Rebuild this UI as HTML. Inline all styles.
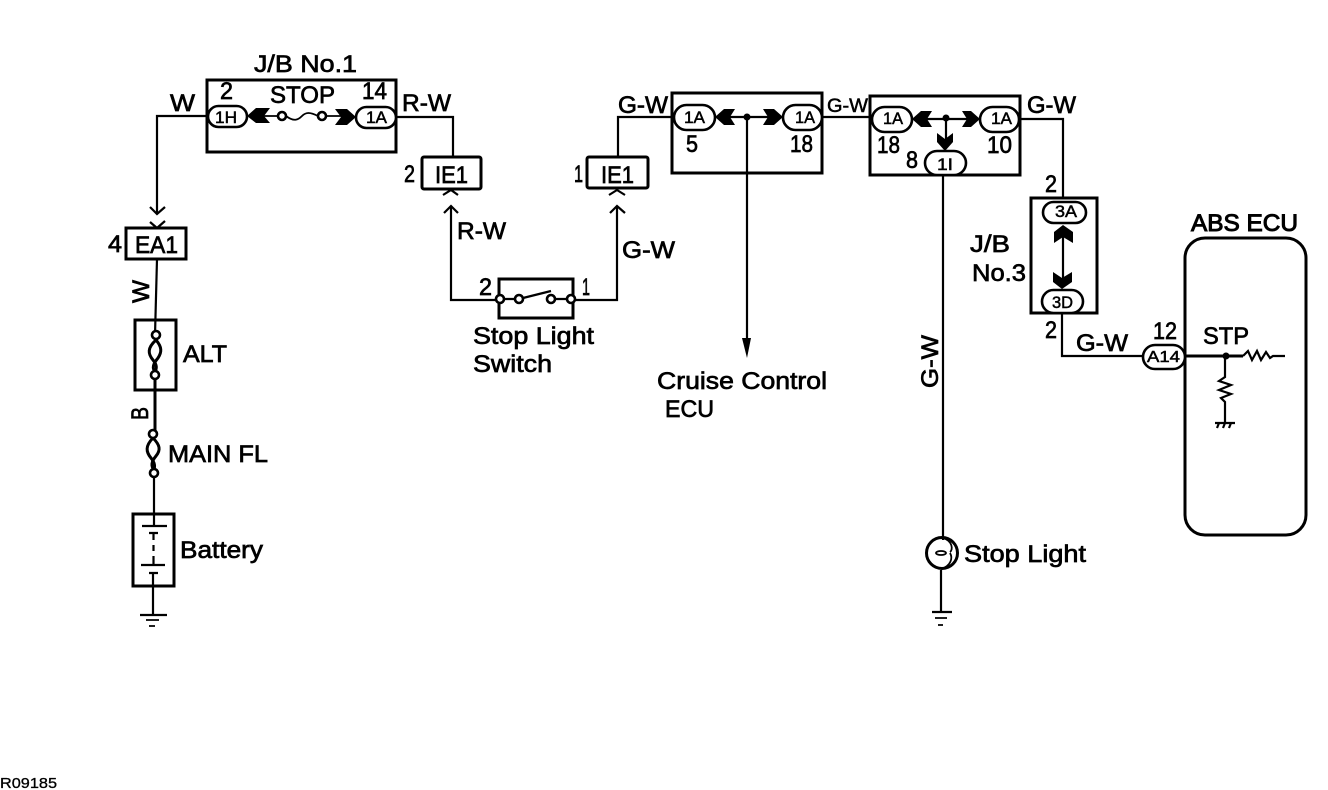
<!DOCTYPE html>
<html>
<head>
<meta charset="utf-8">
<style>
html,body{margin:0;padding:0;background:#fff;}
svg{display:block;}
text{font-family:"Liberation Sans",sans-serif;font-size:24px;fill:#000;stroke:#000;stroke-width:.7px;}
.s{font-size:17px;stroke-width:.5px;}
.m{font-size:19px;stroke-width:.5px;}
.l{fill:none;stroke:#000;stroke-width:2.2;}
.t{fill:none;stroke:#000;stroke-width:1.8;}
.b{fill:none;stroke:#000;stroke-width:3;}
.c{fill:#fff;stroke:#000;stroke-width:2.6;}
.f{fill:#000;stroke:none;}
</style>
</head>
<body>
<svg width="1328" height="790" viewBox="0 0 1328 790" xmlns="http://www.w3.org/2000/svg">
<rect width="1328" height="790" fill="#fff"/>

<!-- wires -->
<path class="l" d="M208,116H157V213"/>
<path class="l" d="M150,207L157,214L165,207"/>
<path class="l" d="M150,222L157,228L165,221"/>
<path class="l" d="M396,117H453V157"/>
<path class="l" d="M443,195L451,190L458,195"/>
<path class="l" d="M451,206V300H499"/>
<path class="l" d="M444,213L451,206L458,213"/>
<path class="l" d="M609,195L617,190L625,195"/>
<path class="l" d="M573,300H617V206"/>
<path class="l" d="M610,213L617,206L625,213"/>
<path class="l" d="M618,157V117H673"/>
<path class="l" d="M822,117H870"/>
<path class="l" d="M1020,119H1063V198"/>
<path class="l" d="M1062,313V356H1143"/>
<path class="l" d="M943,175V540"/>
<path class="l" d="M941,570V612"/>
<path class="l" d="M747,117V342"/>
<path class="f" d="M742,338L747,358L751,338Z"/>

<!-- J/B No.1 -->
<rect class="b" x="207" y="80" width="189" height="72"/>
<rect class="c" x="208" y="106" width="39" height="21" rx="10.5"/>
<rect class="c" x="356" y="107" width="40" height="21" rx="10.5"/>
<path class="f" d="M247,116L256,108H270L264,116L270,123H256Z"/>
<path class="f" d="M356,117L347,109H335L341,117L335,125H347Z"/>
<path class="t" d="M264,116H278M286,116C294,122 298,120 302,116C306,112 310,112 318,116M326,116H341"/>
<circle class="c" cx="282" cy="116" r="4"/>
<circle class="c" cx="322" cy="116" r="4"/>

<rect class="b" x="422" y="157" width="59" height="32" rx="2"/>
<rect class="b" x="587" y="157" width="61" height="31" rx="2"/>
<rect class="b" x="126" y="228" width="60" height="31"/>

<!-- left column -->
<path class="l" d="M157,259L155,335"/>
<rect class="b" x="135" y="320" width="41" height="70"/>
<path class="b" d="M155,375V434" />
<path class="b" d="M156,340C147,348 148,354 153,360C157,365 157,368 155,372"/>
<path class="b" d="M156,340C162,347 162,352 158,358C153,364 152,368 155,372"/>
<path class="b" d="M153,438C145,446 146,452 151,458C155,463 155,466 154,470"/>
<path class="b" d="M153,438C160,445 161,450 156,456C151,462 151,466 154,470"/>
<path class="l" d="M154,476V526"/>
<circle class="c" cx="156" cy="335" r="4"/>
<circle class="c" cx="155" cy="375" r="4"/>
<circle class="c" cx="153" cy="434" r="4"/>
<circle class="c" cx="154" cy="473" r="4"/>
<rect class="b" x="133" y="514" width="41" height="72"/>
<path class="l" d="M142,526H167M149,533H158M153.500,533V540M153.500,545V551M153.500,556V565M141,565H165M149,573H158"/>
<path class="l" d="M153,573V615M140,615H167"/>
<path class="t" d="M146,620H159M149,626H155"/>

<!-- switch -->
<path class="b" d="M499,299V279H573V318H499V299"/>
<path class="l" d="M504,299H515M555,299H567"/>
<path class="l" d="M523,298L551,291"/>
<circle class="c" cx="500" cy="299" r="4"/>
<circle class="c" cx="519" cy="299" r="4"/>
<circle class="c" cx="551" cy="299" r="4"/>
<circle class="c" cx="571" cy="299" r="4"/>

<!-- box 2 -->
<rect class="b" x="672" y="93" width="150" height="80"/>
<rect class="c" x="674" y="105" width="41" height="25" rx="12.500"/>
<rect class="c" x="783" y="105" width="39" height="25" rx="12.500"/>
<path class="f" d="M715,117L724,109H735L730,117L735,125H724Z"/>
<path class="f" d="M783,117L774,109H763L768,117L763,125H774Z"/>
<path class="l" d="M730,117H768"/>
<circle class="f" cx="747" cy="117" r="3.500"/>

<!-- box 3 -->
<rect class="b" x="870" y="96" width="150" height="79"/>
<rect class="c" x="872" y="107" width="40" height="25" rx="12.500"/>
<rect class="c" x="980" y="107" width="39" height="25" rx="12.500"/>
<path class="f" d="M912,119L921,111H932L927,119L932,127H921Z"/>
<path class="f" d="M980,119L971,111H962L967,119L962,127H971Z"/>
<path class="l" d="M927,119H967M946,119V140"/>
<circle class="f" cx="946" cy="118" r="3.500"/>
<path class="f" d="M945,151L953,142V133L945,139L937,133V142Z"/>
<rect class="c" x="925" y="151" width="41" height="24" rx="12"/>

<!-- J/B No.3 -->
<rect class="b" x="1031" y="198" width="66" height="115"/>
<rect class="c" x="1043" y="202" width="43" height="21" rx="10.500"/>
<rect class="c" x="1042" y="290" width="41" height="23" rx="11.500"/>
<path class="f" d="M1063,225L1073,232V243L1063,237L1054,243V232Z"/>
<path class="f" d="M1062,289L1053,282V272L1062,278L1072,272V282Z"/>
<path class="l" d="M1063,237V278"/>

<!-- ABS ECU -->
<rect class="b" x="1185" y="238" width="121" height="297" rx="20"/>
<rect class="c" x="1143" y="345" width="42" height="24" rx="12"/>
<path class="b" d="M1185,356H1243"/>
<circle class="f" cx="1226" cy="356" r="3.500"/>
<path class="l" d="M1243,356L1248,351L1252,360L1257,351L1261,360L1266,352L1270,358L1273,356H1285"/>
<path class="l" d="M1225,356V377L1219,381L1231,385L1219,390L1231,394L1221,398L1225,402V423"/>
<path class="l" d="M1215,423H1235M1219,423L1217,428M1225,423L1223,428M1231,423L1229,428"/>

<!-- stop light -->
<circle class="b" cx="942" cy="553" r="15.500"/>
<path class="t" d="M943,538C953,541 953,550 950,552M941,569C951,566 953,558 950,553"/>
<ellipse class="t" cx="941" cy="553" rx="5" ry="2"/>
<path class="l" d="M932,612H952"/>
<path class="t" d="M935,618H947M938,625H943"/>

<!-- labels -->
<text lengthAdjust="spacingAndGlyphs" x="254" y="72" textLength="103">J/B No.1</text>
<text lengthAdjust="spacingAndGlyphs" x="220" y="99" textLength="13">2</text>
<text lengthAdjust="spacingAndGlyphs" x="270" y="103" textLength="65">STOP</text>
<text lengthAdjust="spacingAndGlyphs" x="362" y="99" textLength="25">14</text>
<text lengthAdjust="spacingAndGlyphs" x="170" y="111" textLength="25">W</text>
<text lengthAdjust="spacingAndGlyphs" x="402" y="111" textLength="49">R-W</text>
<text lengthAdjust="spacingAndGlyphs" class="s" x="215" y="123" textLength="22">1H</text>
<text lengthAdjust="spacingAndGlyphs" class="s" x="366" y="123" textLength="21">1A</text>
<text lengthAdjust="spacingAndGlyphs" x="404" y="182" textLength="11">2</text>
<text lengthAdjust="spacingAndGlyphs" x="435" y="183" textLength="33">IE1</text>
<text lengthAdjust="spacingAndGlyphs" x="574" y="182" textLength="9">1</text>
<text lengthAdjust="spacingAndGlyphs" x="601" y="183" textLength="33">IE1</text>
<text lengthAdjust="spacingAndGlyphs" x="108" y="252" textLength="14">4</text>
<text lengthAdjust="spacingAndGlyphs" x="135" y="253" textLength="43">EA1</text>
<text lengthAdjust="spacingAndGlyphs" transform="translate(149,303) rotate(-90)" textLength="23">W</text>
<text lengthAdjust="spacingAndGlyphs" transform="translate(148,420) rotate(-90)" textLength="13">B</text>
<text lengthAdjust="spacingAndGlyphs" x="183" y="362" textLength="44">ALT</text>
<text lengthAdjust="spacingAndGlyphs" x="168" y="462" textLength="100">MAIN FL</text>
<text lengthAdjust="spacingAndGlyphs" x="180" y="558" textLength="83">Battery</text>
<text lengthAdjust="spacingAndGlyphs" x="457" y="239" textLength="49">R-W</text>
<text lengthAdjust="spacingAndGlyphs" x="622" y="258" textLength="53">G-W</text>
<text lengthAdjust="spacingAndGlyphs" x="479" y="295" textLength="13">2</text>
<text lengthAdjust="spacingAndGlyphs" x="582" y="295" textLength="8">1</text>
<text lengthAdjust="spacingAndGlyphs" x="473" y="344" textLength="121">Stop Light</text>
<text lengthAdjust="spacingAndGlyphs" x="473" y="372" textLength="79">Switch</text>
<text lengthAdjust="spacingAndGlyphs" x="618" y="113" textLength="50">G-W</text>
<text lengthAdjust="spacingAndGlyphs" class="s" x="684" y="123" textLength="21">1A</text>
<text lengthAdjust="spacingAndGlyphs" class="s" x="795" y="123" textLength="20">1A</text>
<text lengthAdjust="spacingAndGlyphs" x="686" y="152" textLength="12">5</text>
<text lengthAdjust="spacingAndGlyphs" x="790" y="152" textLength="23">18</text>
<text lengthAdjust="spacingAndGlyphs" class="m" x="827" y="112" textLength="41">G-W</text>
<text lengthAdjust="spacingAndGlyphs" class="s" x="883" y="124" textLength="20">1A</text>
<text lengthAdjust="spacingAndGlyphs" class="s" x="991" y="124" textLength="21">1A</text>
<text lengthAdjust="spacingAndGlyphs" x="877" y="153" textLength="23">18</text>
<text lengthAdjust="spacingAndGlyphs" x="987" y="153" textLength="25">10</text>
<text lengthAdjust="spacingAndGlyphs" x="906" y="168" textLength="12">8</text>
<text lengthAdjust="spacingAndGlyphs" class="s" x="937" y="170" textLength="16">1I</text>
<text lengthAdjust="spacingAndGlyphs" x="1027" y="113" textLength="49">G-W</text>
<text lengthAdjust="spacingAndGlyphs" x="1045" y="192" textLength="12">2</text>
<text lengthAdjust="spacingAndGlyphs" class="s" x="1055" y="217" textLength="22">3A</text>
<text lengthAdjust="spacingAndGlyphs" class="s" x="1052" y="308" textLength="21">3D</text>
<text lengthAdjust="spacingAndGlyphs" x="1045" y="338" textLength="12">2</text>
<text lengthAdjust="spacingAndGlyphs" x="970" y="252" textLength="40">J/B</text>
<text lengthAdjust="spacingAndGlyphs" x="972" y="281" textLength="54">No.3</text>
<text lengthAdjust="spacingAndGlyphs" x="1076" y="351" textLength="52">G-W</text>
<text lengthAdjust="spacingAndGlyphs" x="1153" y="339" textLength="24">12</text>
<text lengthAdjust="spacingAndGlyphs" class="s" x="1147" y="362" textLength="33" style="font-size:16px">A14</text>
<text lengthAdjust="spacingAndGlyphs" x="1203" y="344" textLength="46">STP</text>
<text lengthAdjust="spacingAndGlyphs" x="1191" y="231" textLength="107" style="stroke-width:1px">ABS ECU</text>
<text lengthAdjust="spacingAndGlyphs" x="657" y="389" textLength="170">Cruise Control</text>
<text lengthAdjust="spacingAndGlyphs" x="665" y="417" textLength="49">ECU</text>
<text lengthAdjust="spacingAndGlyphs" transform="translate(938,388) rotate(-90)" textLength="53">G-W</text>
<text lengthAdjust="spacingAndGlyphs" x="964" y="562" textLength="122">Stop Light</text>
<text lengthAdjust="spacingAndGlyphs" x="0" y="788" textLength="57" style="font-size:15px;stroke-width:.3px">R09185</text>
</svg>
</body>
</html>
